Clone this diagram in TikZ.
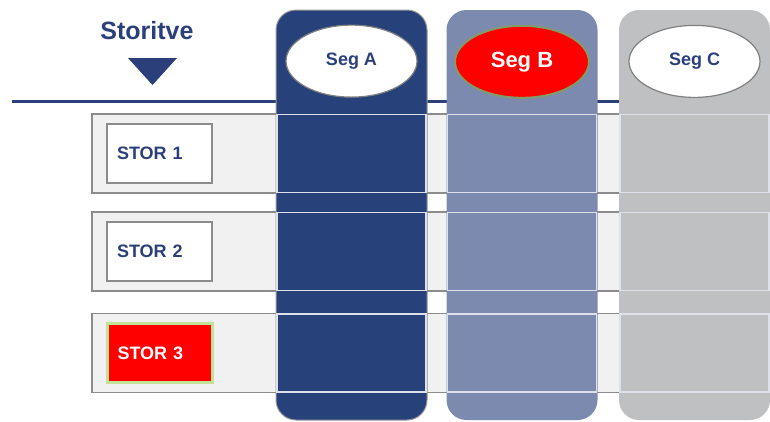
\documentclass[tikz,border=0pt]{standalone}
\usepackage{fontspec}
\setmainfont{Liberation Sans}
\usepackage{tikz}
\usetikzlibrary{
  positioning,
  shapes.geometric
}
\definecolor{segA}{RGB}{39,65,122}
\definecolor{segB}{RGB}{124,138,175}
\definecolor{segC}{RGB}{191,192,194}
\definecolor{navy}{RGB}{43,63,122}
\definecolor{band}{RGB}{241,241,241}
\definecolor{bandline}{RGB}{140,140,140}
\definecolor{cellline}{RGB}{222,224,234}
\definecolor{glow}{RGB}{198,226,150}
\definecolor{olive}{RGB}{130,156,104}

\begin{document}
\begin{tikzpicture}[
  x=1pt,y=-1pt,
  column/.style={rectangle,rounded corners=20pt,minimum width=151pt,minimum height=410pt,inner sep=0pt},
  cell/.style={rectangle,draw=cellline,line width=1.5pt,minimum width=149pt,minimum height=78pt,inner sep=0pt},
  band/.style={rectangle,fill=band,draw=bandline,line width=1.5pt,minimum width=678pt,minimum height=79pt,inner sep=0pt},
  segment/.style={ellipse,fill=white,draw=gray,line width=1.2pt,minimum width=131pt,minimum height=72pt,inner sep=0pt,text=navy,font=\bfseries\fontsize{18}{20}\selectfont},
  store/.style={rectangle,fill=white,draw=bandline,line width=1.5pt,minimum width=105pt,minimum height=59pt,text width=85pt,inner xsep=10pt,align=left,text=navy,font=\bfseries\fontsize{18}{20}\selectfont},
]
\useasboundingbox (0,0) rectangle (770,421);

% heading rule
\draw[navy,line width=3pt] (12,101) -- (770,101);

% storage rows
\node[band] (row1) at (431,153.5) {};
\node[band] (row2) at (431,251.5) {};
\node[band] (row3) at (431,353) {};

% segment columns
\node[column,fill=segA,draw=gray!80,line width=1pt] (colA) at (351.5,215) {};
\node[column,fill=segB] (colB) at (522,215) {};
\node[column,fill=segC] (colC) at (694.5,215) {};

\foreach \c in {A,B,C}
  \foreach \r in {1,2,3}
    \node[cell] (cell\c\r) at (col\c.center |- row\r.center) {};

\node[segment,below=15pt of colA.north] (segA) {Seg A};
\node[segment,below=15pt of colB.north,fill=red,draw=olive,line width=2pt,text=white,minimum width=134pt,font=\bfseries\fontsize{22}{24}\selectfont] (segB) {Seg B};
\node[segment,below=15pt of colC.north] (segC) {Seg C};

\node[store,right=15pt of row1.west] (stor1) {STOR 1};
\node[store,right=15pt of row2.west] (stor2) {STOR 2};
\node[store,right=15pt of row3.west,fill=red,draw=glow,line width=2.5pt,text=white] (stor3) {STOR 3};

% title and marker
\node[text=navy,font=\bfseries\fontsize{25}{28}\selectfont] (title) at (147,31) {Storitve};
\fill[navy] (128,58) -- (177,58) -- (152.5,85) -- cycle;
\end{tikzpicture}
\end{document}
